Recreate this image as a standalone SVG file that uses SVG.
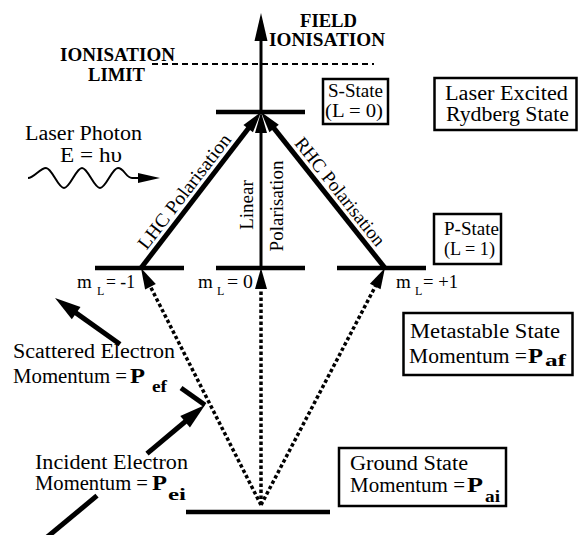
<svg xmlns="http://www.w3.org/2000/svg" width="579" height="535" viewBox="0 0 579 535">
<style>
text{font-family:"Liberation Serif","Times New Roman",serif;fill:#000}
.t{font-size:20px}
.b{font-weight:bold}
.lvl{stroke:#000;stroke-width:4.5;fill:none}
.box{fill:#fff;stroke:#000;stroke-width:2.5}
.arr{stroke:#000;stroke-width:5;fill:none}
.thin{stroke:#000;stroke-width:3;fill:none}
.dot{stroke:#000;stroke-width:3.5;stroke-dasharray:3.5 2.5;fill:none}
.dash{stroke:#000;stroke-width:2;stroke-dasharray:6 4;fill:none}
.wave{stroke:#000;stroke-width:2;fill:none}
</style>
<defs>
<marker id="ah" markerUnits="userSpaceOnUse" markerWidth="22" markerHeight="12" refX="9" refY="6" orient="auto" overflow="visible"><path d="M0,0 L21,6 L0,12 Z" fill="#000"/></marker>
<marker id="ahBig" markerUnits="userSpaceOnUse" markerWidth="26" markerHeight="15" refX="12" refY="7.5" orient="auto" overflow="visible"><path d="M0,0 L26,7.5 L0,15 Z" fill="#000"/></marker>
<marker id="ahLong" markerUnits="userSpaceOnUse" markerWidth="28" markerHeight="13" refX="14" refY="6.5" orient="auto" overflow="visible"><path d="M0,0 L28,6.5 L0,13 Z" fill="#000"/></marker>
<marker id="ahWave" markerUnits="userSpaceOnUse" markerWidth="22" markerHeight="10" refX="2" refY="5" orient="auto" overflow="visible"><path d="M0,0 L22,5 L0,10 Z" fill="#000"/></marker>
</defs>
<rect width="579" height="535" fill="#fff"/>

<g id="ionisation-limit">
<line class="dash" x1="152" y1="64" x2="374" y2="64"/>
<text class="b" x="60" y="61" font-size="19" textLength="115" lengthAdjust="spacingAndGlyphs">IONISATION</text>
<text class="b" x="88" y="81" font-size="19" textLength="57" lengthAdjust="spacingAndGlyphs">LIMIT</text>
</g>

<g id="field-ionisation-label">
<text class="b" x="300" y="27" font-size="19" textLength="57" lengthAdjust="spacingAndGlyphs">FIELD</text>
<text class="b" x="269" y="46" font-size="19" textLength="116" lengthAdjust="spacingAndGlyphs">IONISATION</text>
</g>

<g id="connectors">
<line class="thin" x1="261" y1="112" x2="261" y2="27" marker-end="url(#ahLong)"/>
<line class="arr" x1="141" y1="268" x2="253.7" y2="121.5" marker-end="url(#ah)"/>
<line class="arr" x1="385" y1="268" x2="268.5" y2="121.4" marker-end="url(#ah)"/>
<line class="thin" x1="261" y1="268" x2="261" y2="124" marker-end="url(#ah)"/>
<line class="dot" x1="261" y1="505" x2="146.4" y2="278.7" marker-end="url(#ah)"/>
<line class="dot" x1="261" y1="505" x2="261" y2="280" marker-end="url(#ah)"/>
<line class="dot" x1="261" y1="505" x2="379.4" y2="278.6" marker-end="url(#ah)"/>
<line class="arr" x1="46" y1="538" x2="97" y2="495.7"/>
<line class="arr" x1="147" y1="453.7" x2="194.3" y2="414" marker-end="url(#ahBig)"/>
<line class="arr" x1="205" y1="405" x2="181" y2="388"/>
<line class="arr" x1="120" y1="344.3" x2="66.4" y2="306.1" marker-end="url(#ahBig)"/>
<path class="wave" d="M28,178 C34,178 40,168 46,168 C52,168 58,188 64,188 C70,188 76,168 82,168 C88,168 94,188 100,188 C106,188 112,168 118,168 C124,168 126,178 132,178 L140,178" marker-end="url(#ahWave)"/>
</g>

<g id="s-state-level"><line class="lvl" x1="216" y1="112" x2="305" y2="112"/></g>
<g id="level-m-minus1">
<line class="lvl" x1="95" y1="268" x2="184" y2="268"/>
<text x="77" y="288" font-size="19">m</text><text x="97" y="295" font-size="12">L</text><text x="106" y="288" font-size="19" textLength="29" lengthAdjust="spacingAndGlyphs">= -1</text>
</g>
<g id="level-m-0">
<line class="lvl" x1="216" y1="268" x2="305" y2="268"/>
<text x="198" y="288" font-size="19">m</text><text x="217" y="295" font-size="12">L</text><text x="227" y="288" font-size="19" textLength="26" lengthAdjust="spacingAndGlyphs">= 0</text>
</g>
<g id="level-m-plus1">
<line class="lvl" x1="337" y1="268" x2="426" y2="268"/>
<text x="396" y="288" font-size="19">m</text><text x="415" y="295" font-size="12">L</text><text x="423" y="288" font-size="19" textLength="35" lengthAdjust="spacingAndGlyphs">= +1</text>
</g>
<g id="ground-level"><line class="lvl" x1="186" y1="512" x2="330" y2="512"/></g>

<g id="polarisation-labels">
<text transform="translate(189.3,195.3) rotate(-52.43)" text-anchor="middle" font-size="19" textLength="140" lengthAdjust="spacingAndGlyphs">LHC Polarisation</text>
<text transform="translate(335.1,195.6) rotate(51.5)" text-anchor="middle" font-size="19" textLength="133" lengthAdjust="spacingAndGlyphs">RHC Polarisation</text>
<text transform="translate(253,205) rotate(-90)" text-anchor="middle" font-size="19">Linear</text>
<text transform="translate(283,206) rotate(-90)" text-anchor="middle" font-size="19">Polarisation</text>
</g>

<g id="laser-photon">
<text class="t" x="25" y="140" textLength="117" lengthAdjust="spacingAndGlyphs">Laser Photon</text>
<text class="t" x="60" y="162" textLength="62" lengthAdjust="spacingAndGlyphs">E = hυ</text>
</g>

<g id="s-state-box">
<rect class="box" x="323" y="79" width="65" height="45"/>
<text x="328" y="97" font-size="18" textLength="55" lengthAdjust="spacingAndGlyphs">S-State</text>
<text x="325" y="117" font-size="18" textLength="58" lengthAdjust="spacingAndGlyphs">(L = 0)</text>
</g>

<g id="rydberg-box">
<rect class="box" x="434.5" y="78" width="142" height="52"/>
<text class="t" x="445" y="100" textLength="123" lengthAdjust="spacingAndGlyphs">Laser Excited</text>
<text class="t" x="446" y="121" textLength="123" lengthAdjust="spacingAndGlyphs">Rydberg State</text>
</g>

<g id="p-state-box">
<rect class="box" x="434" y="214" width="67" height="50"/>
<text x="444" y="235" font-size="18" textLength="55" lengthAdjust="spacingAndGlyphs">P-State</text>
<text x="444" y="255" font-size="18" textLength="51" lengthAdjust="spacingAndGlyphs">(L = 1)</text>
</g>

<g id="metastable-box">
<rect class="box" x="403.5" y="313" width="169" height="62"/>
<text class="t" x="410" y="338" textLength="150" lengthAdjust="spacingAndGlyphs">Metastable State</text>
<text class="t" x="409" y="363" textLength="118" lengthAdjust="spacingAndGlyphs">Momentum =</text>
<text class="t b" x="528" y="363" textLength="15" lengthAdjust="spacingAndGlyphs">P</text>
<text class="b" x="545" y="366" font-size="16" textLength="21" lengthAdjust="spacingAndGlyphs">af</text>
</g>

<g id="ground-box">
<rect class="box" x="339" y="448" width="167" height="58"/>
<text class="t" x="350" y="470" textLength="118" lengthAdjust="spacingAndGlyphs">Ground State</text>
<text class="t" x="350" y="492" textLength="115" lengthAdjust="spacingAndGlyphs">Momentum =</text>
<text class="t b" x="467" y="492" textLength="16" lengthAdjust="spacingAndGlyphs">P</text>
<text class="b" x="485" y="502" font-size="16" textLength="15" lengthAdjust="spacingAndGlyphs">ai</text>
</g>

<g id="scattered-electron">
<text class="t" x="13" y="358" textLength="162" lengthAdjust="spacingAndGlyphs">Scattered Electron</text>
<text class="t" x="13" y="383" textLength="114" lengthAdjust="spacingAndGlyphs">Momentum =</text>
<text class="t b" x="130" y="383" textLength="15" lengthAdjust="spacingAndGlyphs">P</text>
<text class="b" x="152" y="392" font-size="16" textLength="15" lengthAdjust="spacingAndGlyphs">ef</text>
</g>

<g id="incident-electron">
<text class="t" x="35" y="469" textLength="153" lengthAdjust="spacingAndGlyphs">Incident Electron</text>
<text class="t" x="35" y="490" textLength="113" lengthAdjust="spacingAndGlyphs">Momentum =</text>
<text class="t b" x="152" y="490" textLength="15" lengthAdjust="spacingAndGlyphs">P</text>
<text class="b" x="168" y="500" font-size="16" textLength="18" lengthAdjust="spacingAndGlyphs">ei</text>
</g>
</svg>
